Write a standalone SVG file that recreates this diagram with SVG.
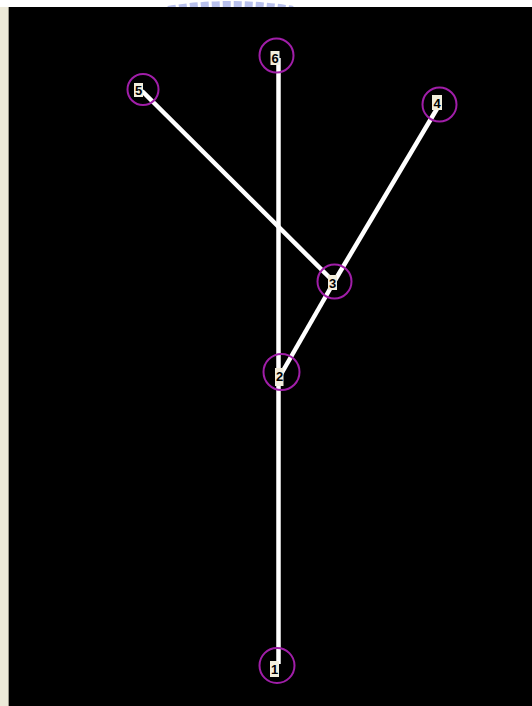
<svg xmlns="http://www.w3.org/2000/svg" width="532" height="706" viewBox="0 0 532 706">
<style>
.ring{fill:none;stroke:#a01ea8;stroke-width:2}
.lbl{fill:#f2eedc}
.t{font-family:"Liberation Sans",Arial,sans-serif;font-size:13px;font-weight:bold;fill:#000;text-anchor:middle}
.edge{stroke:#fff;stroke-width:4.5;stroke-linecap:butt;fill:none}
</style>
<rect x="0" y="0" width="532" height="706" fill="#fff"/>
<rect x="0" y="7" width="8" height="699" fill="#ece9d8"/>
<rect x="8" y="7" width="1" height="699" fill="#9a978a"/>
<path d="M168 9 Q230 -1 293 9" fill="none" stroke="#b8c0ec" stroke-width="6" stroke-dasharray="8 3"/>
<rect x="9" y="7" width="523" height="699" fill="#000"/>
<g id="connectors">
<line class="edge" x1="278.5" y1="58" x2="278.5" y2="664"/>
<line class="edge" x1="142" y1="91" x2="334" y2="282"/>
<line class="edge" x1="438" y1="107" x2="334" y2="282"/>
<line class="edge" x1="334" y1="282" x2="280" y2="376"/>
</g>
<g id="n6"><circle class="ring" cx="276.5" cy="55.5" r="17"/><rect class="lbl" x="270.5" y="51" width="9" height="14"/><text class="t" x="275" y="63">6</text></g>
<g id="n5"><circle class="ring" cx="143" cy="89.5" r="15.5"/><rect class="lbl" x="134" y="83" width="9" height="14"/><text class="t" x="138.5" y="95">5</text></g>
<g id="n4"><circle class="ring" cx="439.5" cy="104.5" r="17"/><rect class="lbl" x="432" y="95" width="10" height="15"/><text class="t" x="437" y="108">4</text></g>
<g id="n3"><circle class="ring" cx="334.5" cy="281.5" r="17"/><rect class="lbl" x="328" y="275" width="9" height="15"/><text class="t" x="332.5" y="288">3</text></g>
<g id="n2"><circle class="ring" cx="281.5" cy="372" r="18"/><rect class="lbl" x="275" y="368" width="8.5" height="18"/><text class="t" x="279.5" y="381">2</text></g>
<g id="n1"><circle class="ring" cx="277" cy="665.5" r="17.5"/><rect class="lbl" x="270" y="661" width="9" height="16"/><text class="t" x="274.5" y="674">1</text></g>
</svg>
